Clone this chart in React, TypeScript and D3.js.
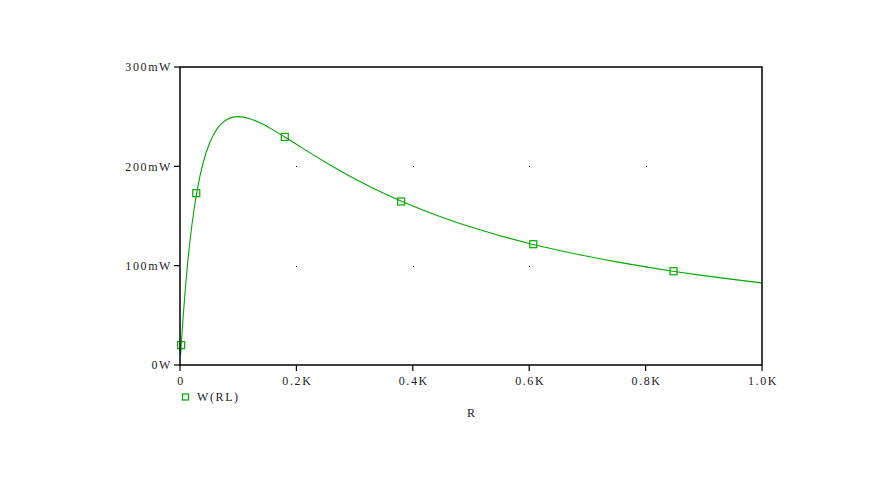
import React from "react";
import * as d3 from "d3";

const rOhms = [1, 2, 5, 10, 15, 20, 30, 40, 50, 60, 70, 80, 90, 100, 120, 140, 160, 180, 200, 250, 300, 350, 400, 450, 500, 550, 600, 650, 700, 750, 800, 850, 900, 950, 1000];
const powerMw = [9.8, 19.2, 45.4, 82.6, 113.4, 138.9, 177.5, 204.1, 222.2, 234.4, 242.2, 246.9, 249.3, 250, 247.9, 243.1, 236.7, 229.6, 222.2, 204.1, 187.5, 172.8, 160, 148.8, 138.9, 130.2, 122.4, 115.6, 109.4, 103.8, 98.8, 94.2, 90, 86.2, 82.6];
const markerR = [2, 28, 180, 380, 607, 848];
const markerP = [20, 173, 229.6, 164.6, 121.6, 94.4];
const xTicks = [0, 200, 400, 600, 800, 1000];
const xTickLabels = ["0", "0.2K", "0.4K", "0.6K", "0.8K", "1.0K"];
const yTicks = [0, 100, 200, 300];
const yTickLabels = ["0W", "100mW", "200mW", "300mW"];
const seriesName = "W(RL)";
const xTitle = "R";

const W = 882, H = 481;
const left = 180, right = 762, top = 67, bottom = 365;
const green = "#00a800";
const font = "'Liberation Serif', 'DejaVu Serif', serif";
const ls = 1.6;

export default function App() {
  const x = d3.scaleLinear().domain([0, 1000]).range([left, right]);
  const y = d3.scaleLinear().domain([0, 300]).range([bottom, top]);
  const pts: [number, number][] = rOhms.map((r, i) => [r, powerMw[i]]);
  const line = d3.line<[number, number]>().x(d => x(d[0])).y(d => y(d[1])).curve(d3.curveMonotoneX);
  return (
    <svg width={W} height={H} style={{ position: "absolute", left: 0, top: 0, background: "#fff" }}>
      <rect x={0} y={0} width={W} height={H} fill="#fff" />
      {xTicks.slice(1, -1).map(xt => yTicks.slice(1, -1).map(yt => (
        <rect key={`${xt}-${yt}`} x={Math.round(x(xt))} y={Math.round(y(yt))} width={1} height={1} fill="#000" />
      )))}
      <path d={line(pts) || ""} fill="none" stroke={green} strokeWidth={1.1} />
      {markerR.map((r, i) => (
        <rect key={i} x={x(r) - 3.5} y={y(markerP[i]) - 3.5} width={7} height={7} fill="none" stroke={green} strokeWidth={1.2} />
      ))}
      <rect x={left} y={top} width={right - left} height={bottom - top} fill="none" stroke="#000" strokeWidth={1.5} />
      {yTicks.map((t, i) => (
        <g key={t}>
          <line x1={left - 6} x2={left} y1={y(t)} y2={y(t)} stroke="#000" strokeWidth={1.2} />
          <text x={left - 8} y={y(t)} dy="0.35em" textAnchor="end" fontFamily={font} fontSize={12} letterSpacing={ls} fill="#222">{yTickLabels[i]}</text>
        </g>
      ))}
      {xTicks.map((t, i) => (
        <g key={t}>
          <line x1={x(t)} x2={x(t)} y1={bottom} y2={bottom + 6} stroke="#000" strokeWidth={1.2} />
          <text x={x(t) + 1} y={bottom + 16} dy="0.35em" textAnchor="middle" fontFamily={font} fontSize={12} letterSpacing={ls} fill="#222">{xTickLabels[i]}</text>
        </g>
      ))}
      <rect x={182.5} y={394} width={6} height={6} fill="none" stroke={green} strokeWidth={1.2} />
      <text x={197} y={397} dy="0.35em" fontFamily={font} fontSize={12} letterSpacing={ls} fill="#222">{seriesName}</text>
      <text x={471} y={413} dy="0.35em" textAnchor="middle" fontFamily={font} fontSize={12} fill="#222">{xTitle}</text>
    </svg>
  );
}
